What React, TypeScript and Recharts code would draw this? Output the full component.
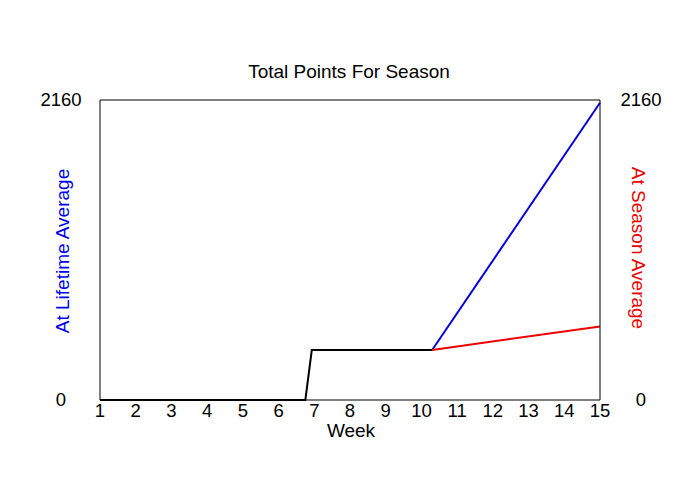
import { LineChart, Line, XAxis, YAxis, Label } from "recharts";

// season totals
const weekTicks = [1, 2, 3, 4, 5, 6, 7, 8, 9, 10, 11, 12, 13, 14, 15];
const pointTicks = [0, 2160];

const actualWeeks = [1, 6.75, 6.93, 10.3];
const actualTotals = [0, 0, 360, 360];

const lifetimeWeeks = [10.3, 15];
const lifetimeTotals = [360, 2140];

const seasonWeeks = [10.3, 15];
const seasonTotals = [360, 530];

const toRows = (weeks: number[], totals: number[]) =>
  weeks.map((week, i) => ({ week, total: totals[i] }));

const actualData = toRows(actualWeeks, actualTotals);
const lifetimeData = toRows(lifetimeWeeks, lifetimeTotals);
const seasonData = toRows(seasonWeeks, seasonTotals);

const font = "'Liberation Sans', Arial, sans-serif";

const WeekTick = (props: any) => {
  const { x, payload } = props;
  return (
    <text x={x} y={417} textAnchor="middle" fontSize={18.5} fill="#000" fontFamily={font}>
      {payload.value}
    </text>
  );
};

const LeftTick = (props: any) => {
  const { y, payload } = props;
  return (
    <text x={61} y={y + 6} textAnchor="middle" fontSize={18.5} fill="#000" fontFamily={font}>
      {payload.value}
    </text>
  );
};

const RightTick = (props: any) => {
  const { y, payload } = props;
  return (
    <text x={641} y={y + 6} textAnchor="middle" fontSize={18.5} fill="#000" fontFamily={font}>
      {payload.value}
    </text>
  );
};

const App = () => {
  return (
    <div style={{ position: "absolute", top: 0, left: 0, background: "#fff" }}>
      <LineChart width={700} height={500} margin={{ top: 99, right: 40, bottom: 70, left: 40 }}>
        <XAxis
          xAxisId="bottom"
          dataKey="week"
          type="number"
          domain={[1, 15]}
          ticks={weekTicks}
          allowDuplicatedCategory={false}
          height={30}
          tickLine={false}
          tick={<WeekTick />}
          stroke="#000"
          axisLine={{ stroke: "#000", strokeWidth: 1 }}
        >
          <Label
            content={() => (
              <text x={351} y={437} textAnchor="middle" fontSize={19} fill="#000" fontFamily={font}>
                Week
              </text>
            )}
          />
        </XAxis>
        <XAxis
          xAxisId="top"
          orientation="top"
          dataKey="week"
          type="number"
          domain={[1, 15]}
          ticks={weekTicks}
          allowDuplicatedCategory={false}
          height={1}
          tick={false}
          tickLine={false}
          stroke="#000"
          axisLine={{ stroke: "#000", strokeWidth: 1 }}
        >
          <Label
            content={() => (
              <text x={349} y={78} textAnchor="middle" fontSize={19} fill="#000" fontFamily={font}>
                Total Points For Season
              </text>
            )}
          />
        </XAxis>
        <YAxis
          yAxisId="left"
          type="number"
          domain={[0, 2160]}
          ticks={pointTicks}
          width={60}
          tickLine={false}
          tick={<LeftTick />}
          stroke="#000"
          axisLine={{ stroke: "#000", strokeWidth: 1 }}
        >
          <Label
            content={() => (
              <text
                x={69}
                y={251}
                textAnchor="middle"
                fontSize={19}
                fill="#0000ee"
                fontFamily={font}
                transform="rotate(-90 69 251)"
              >
                At Lifetime Average
              </text>
            )}
          />
        </YAxis>
        <YAxis
          yAxisId="right"
          orientation="right"
          type="number"
          domain={[0, 2160]}
          ticks={pointTicks}
          width={60}
          tickLine={false}
          tick={<RightTick />}
          stroke="#000"
          axisLine={{ stroke: "#000", strokeWidth: 1 }}
        >
          <Label
            content={() => (
              <text
                x={632}
                y={248}
                textAnchor="middle"
                fontSize={19}
                fill="#ee0000"
                fontFamily={font}
                transform="rotate(90 632 248)"
              >
                At Season Average
              </text>
            )}
          />
        </YAxis>
        <Line
          xAxisId="bottom"
          yAxisId="left"
          data={lifetimeData}
          dataKey="total"
          type="linear"
          stroke="#0000dd"
          strokeWidth={2}
          dot={false}
          isAnimationActive={false}
        />
        <Line
          xAxisId="bottom"
          yAxisId="right"
          data={seasonData}
          dataKey="total"
          type="linear"
          stroke="#ee0000"
          strokeWidth={2}
          dot={false}
          isAnimationActive={false}
        />
        <Line
          xAxisId="top"
          yAxisId="left"
          data={actualData}
          dataKey="total"
          type="linear"
          stroke="#000"
          strokeWidth={2}
          dot={false}
          isAnimationActive={false}
        />
      </LineChart>
    </div>
  );
};

export default App;
